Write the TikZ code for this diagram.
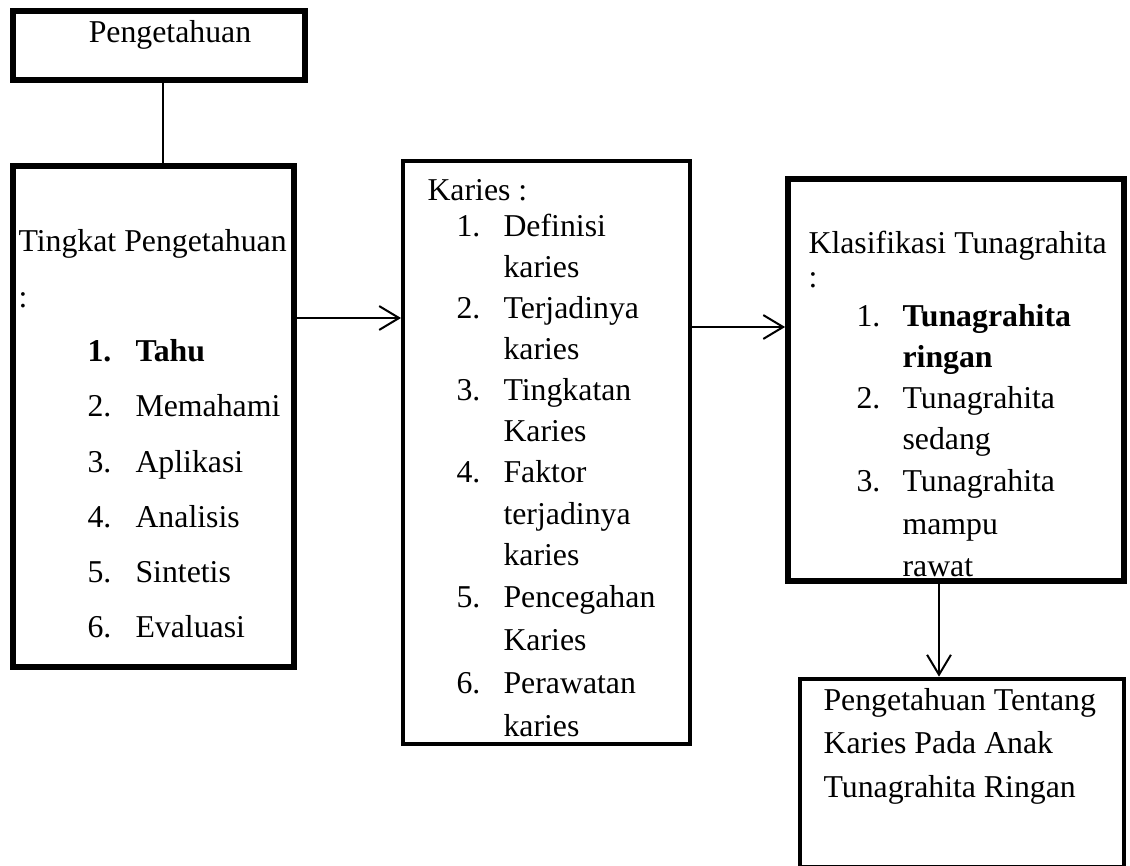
\documentclass[tikz,border=0pt]{standalone}
\usepackage{fontspec}
\setmainfont{Liberation Serif}
\usetikzlibrary{arrows.meta,positioning,fit}
\tikzset{
  box/.style={draw, line width=2.2pt, inner sep=0pt},
  txt/.style={inner sep=0pt, anchor=base west, font=\fontsize{12pt}{14pt}\selectfont},
  bold/.style={txt, font=\fontsize{12pt}{14pt}\selectfont\bfseries},
  arr/.style={-{Straight Barb[length=7.5pt,width=9pt]}, line width=0.75pt},
  link/.style={line width=0.75pt},
}

\begin{document}
\begin{tikzpicture}[x=0.3774pt, y=-0.3774pt]
  \useasboundingbox (0,0) rectangle (1130,866);
  % boxes
  \node[box, fit={(13,11) (305,80)}] (peng) {};
  \node[box, fit={(13,166) (294,667)}] (tingkat) {};
  \node[box, line width=1.5pt, fit={(403,161) (690,744)}] (karies) {};
  \node[box, fit={(788,179) (1124,581)}] (klas) {};
  \node[box, line width=1.8pt, fit={(800,679) (1124,867)}] (hasil) {};

  % top box
  \node[txt, anchor=base] (pengT) at (170,43) {Pengetahuan};

  % tingkat pengetahuan
  \node[txt] (tingkatT) at (18,252) {Tingkat Pengetahuan};
  \node[txt] (tingkatC) at (18,308) {:};
  \node[bold] (tn1) at (87,362) {1.};
  \node[bold] (ti1) at (135,362) {Tahu};
  \foreach \i/\t/\y in {2/Memahami/417,3/Aplikasi/472,4/Analisis/527,5/Sintetis/582,6/Evaluasi/637}{
    \node[txt] (tn\i) at (87,\y) {\i.};
    \node[txt] (ti\i) at (135,\y) {\t};
  }

  % karies
  \node[txt] (kariesT) at (427,201) {Karies :};
  \foreach \n/\y in {1/237,2/319,3/401,4/483,5/607,6/693}
    \node[txt] (kn\n) at (456,\y) {\n.};
  \foreach \j/\t/\y in {1/Definisi/237,2/karies/278,3/Terjadinya/319,4/karies/360,
      5/Tingkatan/401,6/Karies/442,7/Faktor/483,8/terjadinya/524,9/karies/565,
      10/Pencegahan/607,11/Karies/650,12/Perawatan/693,13/karies/736}
    \node[txt] (kl\j) at (503,\y) {\t};

  % klasifikasi
  \node[txt] (klasT) at (808,254) {Klasifikasi Tunagrahita};
  \node[txt] (klasC) at (808,288) {:};
  \foreach \n/\y in {1/327,2/409,3/492}
    \node[txt] (cn\n) at (856,\y) {\n.};
  \node[bold] (cl1) at (902,327) {Tunagrahita};
  \node[bold] (cl2) at (902,368) {ringan};
  \foreach \j/\t/\y in {3/Tunagrahita/409,4/sedang/450,5/Tunagrahita/492,6/mampu/534,7/rawat/576}
    \node[txt] (cl\j) at (902,\y) {\t};

  % hasil
  \foreach \j/\t/\y in {1/Pengetahuan Tentang/710,2/Karies Pada Anak/753,3/Tunagrahita Ringan/797}
    \node[txt] (hl\j) at (823,\y) {\t};

  % connectors
  \draw[link] (163,0 |- peng.south) -- (163,0 |- tingkat.north);
  \draw[arr] (tingkat.east |- 0,318) -- (karies.west |- 0,318);
  \draw[arr] (karies.east |- 0,327) -- (klas.west |- 0,327);
  \draw[arr] (939,0 |- klas.south) -- (939,0 |- hasil.north);
\end{tikzpicture}
\end{document}
